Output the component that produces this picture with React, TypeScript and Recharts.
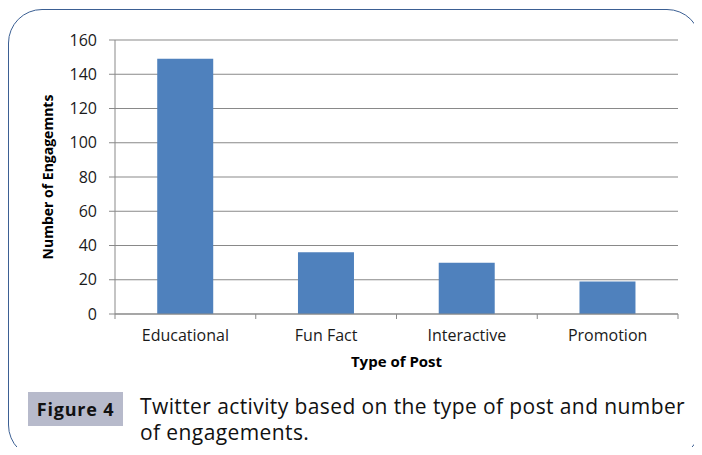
import { BarChart, Bar, XAxis, YAxis, CartesianGrid, Label } from 'recharts'

const postTypes = ['Educational', 'Fun Fact', 'Interactive', 'Promotion']
const engagements = [149, 36, 30, 19]
const yTicks = [0, 20, 40, 60, 80, 100, 120, 140, 160]

const data = postTypes.map((type, i) => ({ type, engagements: engagements[i] }))

const AXIS_GRAY = '#898989'
const FONT = '"Open Sans", "DejaVu Sans", sans-serif'

// category tick: label in the middle, tick marks on the band edges
function CategoryTick(props: any) {
  const { x, y, payload, index, visibleTicksCount } = props
  const half = payload.offset ?? 0
  const isLast = index === visibleTicksCount - 1
  return (
    <g>
      <line x1={x - half} y1={y} x2={x - half} y2={y + 5} stroke={AXIS_GRAY} />
      {isLast && <line x1={x + half} y1={y} x2={x + half} y2={y + 5} stroke={AXIS_GRAY} />}
      <text x={x} y={y + 27} textAnchor="middle" fontSize={16} fill="#1a1a1a" fontFamily={FONT}>
        {payload.value}
      </text>
    </g>
  )
}

export default function App() {
  return (
    <div style={{ position: 'relative', width: 702, height: 455, margin: -8, overflow: 'hidden', background: '#fff' }}>
      <div
        style={{
          position: 'absolute',
          left: 8,
          top: 9,
          width: 691,
          height: 448,
          border: '1.5px solid #3b5f93',
          borderRadius: 34,
        }}
      />
      <div style={{ position: 'absolute', left: 0, top: 0 }}>
        <BarChart
          width={702}
          height={380}
          data={data}
          margin={{ top: 40, right: 24, bottom: 0, left: 0 }}
          barCategoryGap="30%"
        >
          <CartesianGrid vertical={false} stroke={AXIS_GRAY} strokeWidth={1} />
          <XAxis
            dataKey="type"
            height={66}
            stroke={AXIS_GRAY}
            tickLine={false}
            tickSize={0}
            tickMargin={0}
            interval={0}
            tick={<CategoryTick />}
          >
            <Label
              value="Type of Post"
              position="insideBottom"
              offset={13}
              style={{ fontSize: 15, fontWeight: 700, fill: '#000', fontFamily: FONT }}
            />
          </XAxis>
          <YAxis
            width={115}
            domain={[0, 160]}
            ticks={yTicks}
            interval={0}
            stroke={AXIS_GRAY}
            tickSize={6}
            tickMargin={12}
            tick={{ fontSize: 16, fill: '#1a1a1a', fontFamily: FONT }}
          >
            <Label
              value="Number of Engagemnts"
              angle={-90}
              position="center"
              dx={-9}
              style={{ fontSize: 14, fontWeight: 700, fill: '#000', fontFamily: FONT, textAnchor: 'middle' }}
            />
          </YAxis>
          <Bar dataKey="engagements" fill="#4f81bd" isAnimationActive={false} />
        </BarChart>
      </div>
      <div
        style={{
          position: 'absolute',
          left: 28,
          top: 392,
          width: 95,
          height: 34,
          background: '#b7bacb',
          display: 'flex',
          alignItems: 'center',
          justifyContent: 'center',
          fontFamily: FONT,
          fontWeight: 700,
          fontSize: 18,
          letterSpacing: 0.8,
          color: '#111',
        }}
      >
        Figure 4
      </div>
      <div
        style={{
          position: 'absolute',
          left: 140,
          top: 393,
          width: 560,
          fontFamily: FONT,
          fontSize: 21,
          letterSpacing: 0.4,
          lineHeight: '26px',
          color: '#111',
        }}
      >
        Twitter activity based on the type of post and number
        <br />
        of engagements.
      </div>
    </div>
  )
}
